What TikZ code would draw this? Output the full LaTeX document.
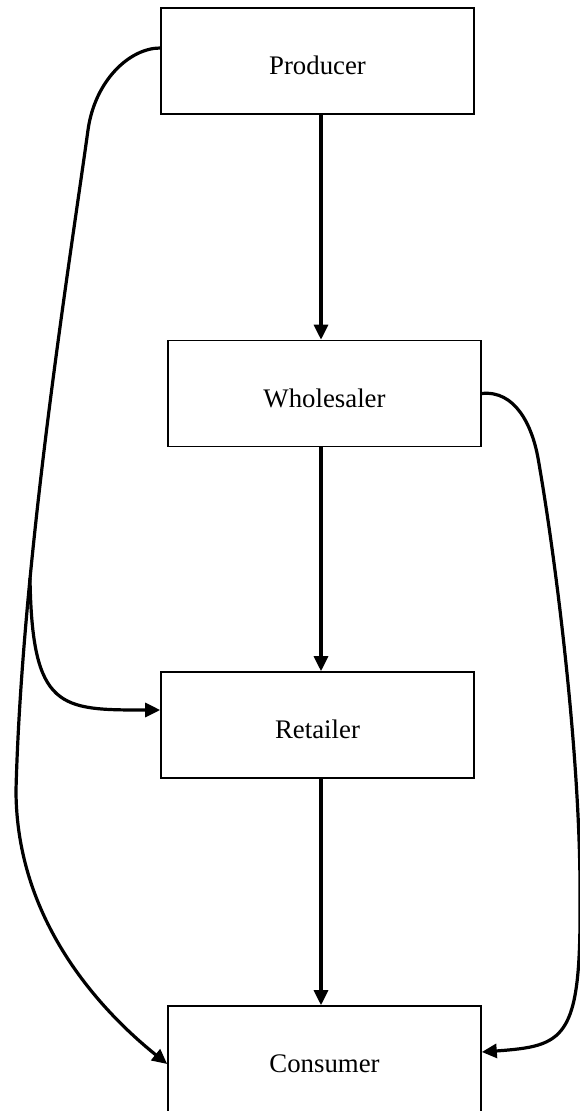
\documentclass[tikz,border=0pt]{standalone}
\usepackage{fontspec}
\setmainfont{Liberation Serif}
\usetikzlibrary{arrows.meta}
\begin{document}
\begin{tikzpicture}[x=1pt,y=-1pt,
  box/.style={draw, line width=1.6pt, minimum width=313pt, minimum height=106pt, inner sep=0pt,
    text height=27pt, text depth=0pt, font=\fontsize{26.8}{30}\selectfont},
  conn/.style={line width=3.2pt, -{Triangle[length=15pt,width=14pt]}}]
\useasboundingbox (0,0) rectangle (579,1111);
\node[box] (prod) at (317.5,61) {Producer};
\node[box] (whol) at (324.5,393.5) {Wholesaler};
\node[box] (ret) at (317.5,725) {Retailer};
\node[box] (cons) at (324.5,1059) {Consumer};
\coordinate (ax) at (321,0);
\coordinate (rs) at (30,578);
% vertical flow
\draw[conn] (prod.south -| ax) -- (whol.north -| ax);
\draw[conn] (whol.south -| ax) -- (ret.north -| ax);
\draw[conn] (ret.south -| ax) -- (cons.north -| ax);
% producer -> consumer
\draw[conn] ([yshift=13pt]prod.west) .. controls (130,48) and (95,80) .. (88,130)
  .. controls (70,260) and (22,560) .. (16,790)
  .. controls (16,920) and (100,1010) .. ([yshift=-5pt]cons.west);
% branch -> retailer
\draw[conn] (rs) .. controls (32,710) and (60,710) .. ([yshift=15pt]ret.west);
% wholesaler -> consumer
\draw[conn] (whol.east) .. controls (515,390) and (532,425) .. (538,458)
  .. controls (556,560) and (581,760) .. (580,900)
  .. controls (581,1040) and (565,1046) .. ([yshift=7pt]cons.east);
\end{tikzpicture}
\end{document}
